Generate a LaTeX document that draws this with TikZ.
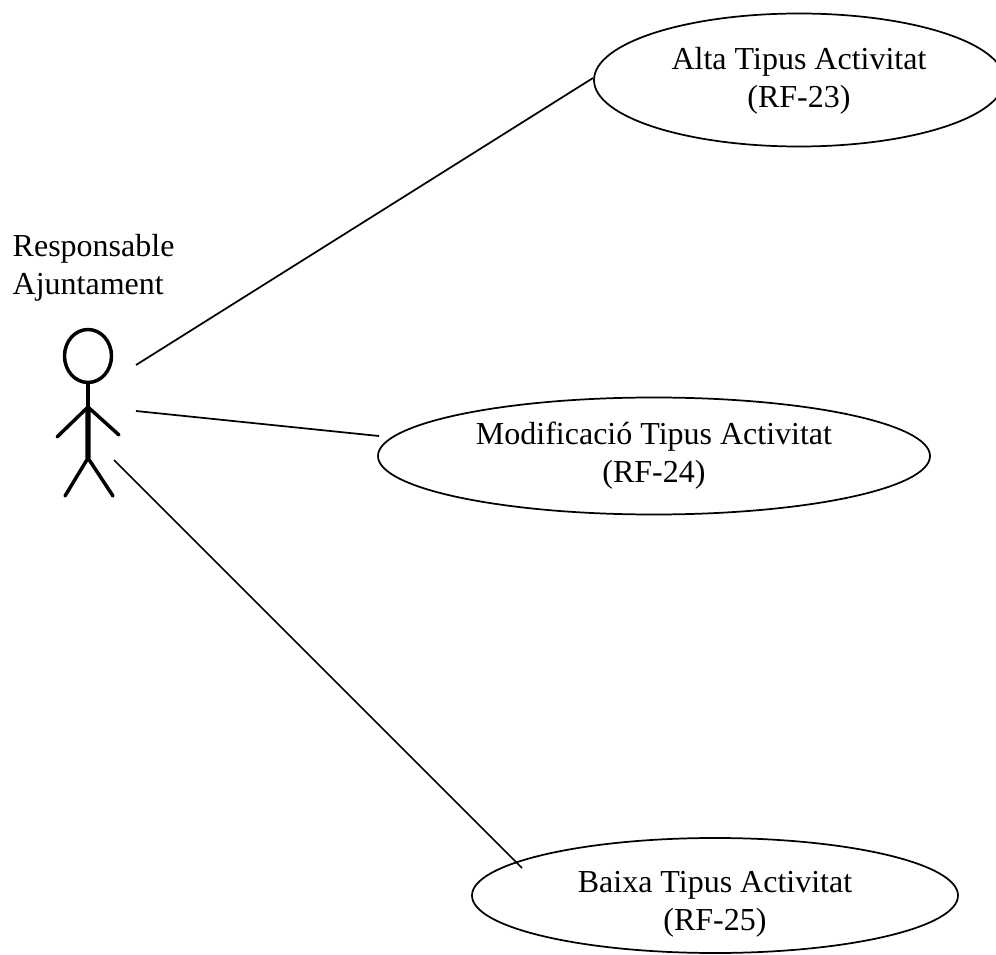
\documentclass[tikz,border=0pt]{standalone}
\usepackage{fontspec}
\setmainfont{Liberation Serif}
\usetikzlibrary{shapes.geometric}
\tikzset{
 usecase/.style={draw=black,ellipse,line width=1.3pt,inner sep=0pt,align=center},
 lbl/.style={align=center,font=\fontsize{24}{28.5}\selectfont},
 assoc/.style={draw=black,line width=1.3pt},
 stick/.style={draw=black,line width=2.6pt,line cap=round}
}
\begin{document}
\begin{tikzpicture}[x=1pt,y=-1pt,xscale=0.75,yscale=0.75]
\useasboundingbox (0,0) rectangle (996,955);
\node[usecase,minimum width=410pt*0.75,minimum height=133pt*0.75] (a) at (799,80) {};
\node[lbl] at (799,81) {Alta Tipus Activitat\\(RF-23)};
\node[usecase,minimum width=552pt*0.75,minimum height=117pt*0.75] (m) at (654,456) {};
\node[lbl] at (654,456) {Modificació Tipus Activitat\\(RF-24)};
\node[usecase,minimum width=486pt*0.75,minimum height=115pt*0.75] (b) at (715,895.5) {};
\node[lbl] at (715,904.5) {Baixa Tipus Activitat\\(RF-25)};
\node[lbl,align=left,anchor=west] (t) at (8,268) {Responsable\\Ajuntament};
\coordinate (c1) at (136,365);
\coordinate (c2) at (136,411);
\coordinate (c3) at (114,460);
\coordinate (e1) at (593,78);
\coordinate (e2) at (379,436);
\coordinate (e3) at (522,868);
\draw[assoc] (c1) -- (e1);
\draw[assoc] (c2) -- (e2);
\draw[assoc] (c3) -- (e3);
\node[ellipse,draw=black,line width=2.6pt,minimum width=47pt*0.75,minimum height=53pt*0.75,inner sep=0pt] (head) at (88,356) {};
\coordinate (hip) at (88,458);
\draw[stick] (head.south) -- (hip);
\draw[draw=black,line width=4pt] (88,408) -- (hip);
\coordinate (sh) at (88,407);
\coordinate (la) at (57,437);
\coordinate (ra) at (119,435);
\coordinate (ll) at (65,496);
\coordinate (rl) at (113,496);
\draw[stick] (la) -- (sh) -- (ra);
\draw[stick] (ll) -- (hip) -- (rl);
\end{tikzpicture}
\end{document}
